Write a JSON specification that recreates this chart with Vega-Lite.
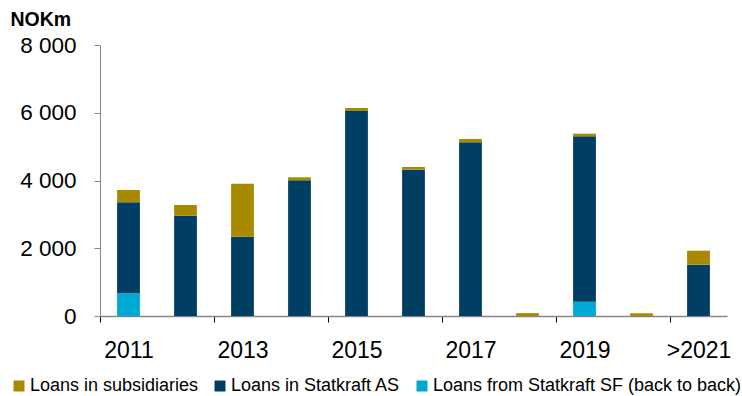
{
  "$schema": "https://vega.github.io/schema/vega-lite/v6.json",
  "width": 627,
  "height": 271,
  "autosize": {"type": "none"},
  "padding": {"left": 100, "top": 45, "right": 15, "bottom": 80},
  "background": "white",
  "config": {"font": "Liberation Sans", "view": {"stroke": null}},
  "data": {"values": [
    {"year": "2011", "series": "Loans from Statkraft SF (back to back)", "value": 670},
    {"year": "2011", "series": "Loans in Statkraft AS", "value": 2686},
    {"year": "2011", "series": "Loans in subsidiaries", "value": 364},
    {"year": "2012", "series": "Loans in Statkraft AS", "value": 2961},
    {"year": "2012", "series": "Loans in subsidiaries", "value": 316},
    {"year": "2013", "series": "Loans in Statkraft AS", "value": 2342},
    {"year": "2013", "series": "Loans in subsidiaries", "value": 1564},
    {"year": "2014", "series": "Loans in Statkraft AS", "value": 4005},
    {"year": "2014", "series": "Loans in subsidiaries", "value": 89},
    {"year": "2015", "series": "Loans in Statkraft AS", "value": 6050},
    {"year": "2015", "series": "Loans in subsidiaries", "value": 90},
    {"year": "2016", "series": "Loans in Statkraft AS", "value": 4320},
    {"year": "2016", "series": "Loans in subsidiaries", "value": 78},
    {"year": "2017", "series": "Loans in Statkraft AS", "value": 5127},
    {"year": "2017", "series": "Loans in subsidiaries", "value": 98},
    {"year": "2018", "series": "Loans in subsidiaries", "value": 85},
    {"year": "2019", "series": "Loans from Statkraft SF (back to back)", "value": 422},
    {"year": "2019", "series": "Loans in Statkraft AS", "value": 4882},
    {"year": "2019", "series": "Loans in subsidiaries", "value": 78},
    {"year": "2020", "series": "Loans in subsidiaries", "value": 80},
    {"year": ">2021", "series": "Loans in Statkraft AS", "value": 1515},
    {"year": ">2021", "series": "Loans in subsidiaries", "value": 413}
  ]},
  "mark": {"type": "bar"},
  "encoding": {
    "x": {
      "field": "year", "type": "nominal",
      "sort": ["2011","2012","2013","2014","2015","2016","2017","2018","2019","2020",">2021"],
      "scale": {"paddingInner": 0.6, "paddingOuter": 0.3},
      "axis": {
        "title": null,
        "values": ["2011","2013","2015","2017","2019",">2021"],
        "labelAngle": 0,
        "labelFontSize": 23,
        "labelColor": "#000000",
        "labelPadding": 17,
        "bandPosition": 0,
        "tickOffset": -17.1,
        "labelOffset": 17.1,
        "tickSize": 6,
        "tickColor": "#000000",
        "domainColor": "#868686",
        "domainWidth": 1.5
      }
    },
    "y": {
      "field": "value", "type": "quantitative", "aggregate": "sum",
      "stack": "zero",
      "scale": {"domain": [0, 8000], "nice": false},
      "axis": {
        "values": [0, 2000, 4000, 6000, 8000],
        "grid": false,
        "labelExpr": "replace(format(datum.value, ',d'), ',', ' ')",
        "labelFontSize": 22.5,
        "labelColor": "#000000",
        "labelPadding": 18,
        "tickSize": 6,
        "tickColor": "#868686",
        "domainColor": "#868686",
        "title": "NOKm",
        "titleAngle": 0,
        "titleAlign": "left",
        "titleBaseline": "alphabetic",
        "titleX": -90,
        "titleY": -20,
        "titleFontSize": 19.5,
        "titleFontWeight": "bold",
        "titleColor": "#000000"
      }
    },
    "color": {
      "field": "series", "type": "nominal",
      "scale": {
        "domain": ["Loans in subsidiaries", "Loans in Statkraft AS", "Loans from Statkraft SF (back to back)"],
        "range": ["#A88A00", "#003F63", "#00A9D4"]
      },
      "legend": {
        "title": null,
        "orient": "none",
        "direction": "horizontal",
        "legendX": -90,
        "legendY": 332,
        "symbolType": "square",
        "symbolSize": 121,
        "symbolStrokeWidth": 0,
        "symbolOffset": 0,
        "labelFontSize": 18,
        "labelColor": "#000000",
        "labelOffset": 2,
        "columnPadding": 12,
        "labelLimit": 400
      }
    },
    "order": {"field": "series", "sort": "ascending"}
  }
}
